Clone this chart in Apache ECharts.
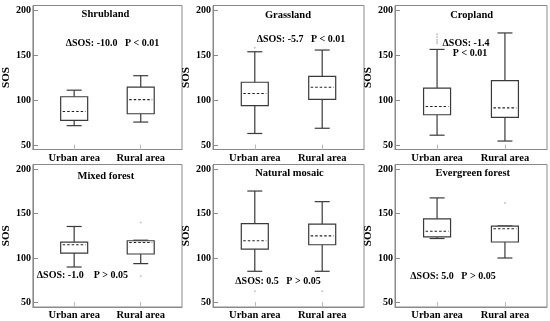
<!DOCTYPE html>
<html>
<head>
<meta charset="utf-8">
<script src="https://cdn.jsdelivr.net/npm/echarts@6/dist/echarts.min.js"></script>
<style>html,body{margin:0;padding:0;background:#fff}#c{width:550px;height:321px}</style>
</head>
<body>
<div id="c"></div>
<script>
// ---- data ----
const categories = ['Urban area', 'Rural area'];
const panelTitles = ['Shrubland', 'Grassland', 'Cropland', 'Mixed forest', 'Natural mosaic', 'Evergreen forest'];
const annotationTexts = [
  ['ΔSOS: -10.0   P < 0.01'],
  ['ΔSOS: -5.7   P < 0.01'],
  ['ΔSOS: -1.4', 'P < 0.01'],
  ['ΔSOS: -1.0    P > 0.05'],
  ['ΔSOS: 0.5   P > 0.05'],
  ['ΔSOS: 5.0   P > 0.05']
];
const yTicks = [50, 100, 150, 200];
// [whisker low, Q1, median, Q3, whisker high] for urban, rural
const shrubland = [[71.5, 77.4, 87.2, 103.6, 110.9], [75.5, 84.7, 100.4, 114.2, 127.0]];
const grassland = [[62.8, 93.8, 107.3, 119.7, 153.6], [68.6, 100.7, 114.2, 126.3, 155.5]];
const cropland = [[60.9, 83.6, 92.7, 113.1, 156.2], [54.4, 80.7, 91.2, 121.5, 174.5]];
const mixedForest = [[89.9, 105.6, 114.9, 117.9, 135.4], [93.7, 104.5, 117.5, 119.4, 120.0]];
const naturalMosaic = [[85.1, 110.0, 119.4, 138.7, 175.2], [85.1, 114.9, 124.9, 138.0, 163.3]];
const evergreenForest = [[121.9, 123.8, 130.0, 144.0, 167.5], [100.0, 118.0, 132.8, 135.8, 136.0]];
// outliers: [category index, value]
const shrublandOut = [];
const grasslandOut = [[0, 158]];
const croplandOut = [[0, 163], [0, 165], [0, 167], [0, 170], [0, 173]];
const mixedForestOut = [[1, 139.8], [1, 79.5]];
const naturalMosaicOut = [[0, 62.8], [1, 62.8]];
const evergreenForestOut = [[1, 161.7]];

const panels = [shrubland, grassland, cropland, mixedForest, naturalMosaic, evergreenForest];
const outliers = [shrublandOut, grasslandOut, croplandOut, mixedForestOut, naturalMosaicOut, evergreenForestOut];

// ---- layout ----
const colLeft = [30, 213, 395];
const colWidth = [152, 151, 152];
const rowTop = [5.5, 164.5];
const rowHeight = [144, 143.3];
const titlePos = [[105.5, 14.5], [288, 15], [471.7, 15.5], [105.8, 176], [289.5, 173.3], [472.8, 173.3]];
const annotPos = [[[112.5, 43]], [[301, 39.5]], [[466, 43], [470, 53.5]], [[82.4, 275.7]], [[278, 281.7]], [[453, 276]]];

const FONT = "'Liberation Serif', 'Times New Roman', serif";
const BOX = '#3a3a3a';
const AXIS = '#8a8a8a';

function renderBox(params, api) {
  const x = api.value(0);
  const lo = api.coord([x, api.value(1)]);
  const q1 = api.coord([x, api.value(2)]);
  const md = api.coord([x, api.value(3)]);
  const q3 = api.coord([x, api.value(4)]);
  const hi = api.coord([x, api.value(5)]);
  const cx = lo[0], bw = 27, cw = 15;
  const st = { stroke: BOX, lineWidth: 1.2, fill: null };
  return {
    type: 'group',
    children: [
      { type: 'line', shape: { x1: cx, y1: hi[1], x2: cx, y2: q3[1] }, style: st },
      { type: 'line', shape: { x1: cx, y1: q1[1], x2: cx, y2: lo[1] }, style: st },
      { type: 'line', shape: { x1: cx - cw / 2, y1: hi[1], x2: cx + cw / 2, y2: hi[1] }, style: st },
      { type: 'line', shape: { x1: cx - cw / 2, y1: lo[1], x2: cx + cw / 2, y2: lo[1] }, style: st },
      { type: 'rect', shape: { x: cx - bw / 2, y: q3[1], width: bw, height: q1[1] - q3[1] }, style: { stroke: BOX, lineWidth: 1.2, fill: '#fff' } },
      { type: 'line', shape: { x1: cx - bw / 2 + 2, y1: md[1], x2: cx + bw / 2 - 2, y2: md[1] }, style: { stroke: '#222', lineWidth: 1.1, lineDash: [2.5, 2] } }
    ]
  };
}

const grids = [], xAxes = [], yAxes = [], series = [], graphics = [];
for (let i = 0; i < 6; i++) {
  const r = Math.floor(i / 3), c = i % 3;
  grids.push({ left: colLeft[c], top: rowTop[r], width: colWidth[c], height: rowHeight[r], show: true, borderColor: AXIS, borderWidth: 1, backgroundColor: 'transparent' });
  xAxes.push({
    gridIndex: i, type: 'value', min: -0.62, max: 1.62,
    axisLine: { show: true, onZero: false, lineStyle: { color: AXIS } },
    axisTick: { show: true, inside: true, length: 5, customValues: [0, 1], lineStyle: { color: '#bbb' } },
    axisLabel: { customValues: [0, 1], formatter: v => categories[Math.round(v)], margin: 3, color: '#000', fontFamily: FONT, fontWeight: 'bold', fontSize: 10.5 },
    splitLine: { show: false }
  });
  yAxes.push({
    gridIndex: i, type: 'value', min: 45, max: 205,
    name: 'SOS', nameLocation: 'middle', nameGap: 15, nameRotate: 90,
    nameTextStyle: { color: '#000', fontFamily: FONT, fontWeight: 'bold', fontSize: 11 },
    axisLine: { show: true, onZero: false, lineStyle: { color: AXIS } },
    axisTick: { show: true, inside: true, length: 5, customValues: yTicks, lineStyle: { color: AXIS } },
    axisLabel: { customValues: yTicks, margin: 2, color: '#000', fontFamily: FONT, fontWeight: 'bold', fontSize: 10 },
    splitLine: { show: false }
  });
  series.push({
    type: 'custom', xAxisIndex: i, yAxisIndex: i, renderItem: renderBox,
    encode: { x: 0, y: [1, 2, 3, 4, 5] },
    data: panels[i].map((d, k) => [k].concat(d))
  });
  series.push({
    type: 'scatter', xAxisIndex: i, yAxisIndex: i, symbolSize: 2,
    itemStyle: { color: '#b8b8b8' }, data: outliers[i]
  });
  graphics.push({ type: 'text', x: titlePos[i][0], y: titlePos[i][1], style: { text: panelTitles[i], fill: '#000', font: 'bold 10.5px ' + FONT, textAlign: 'center', textVerticalAlign: 'middle' } });
  annotationTexts[i].forEach((t, k) => {
    graphics.push({ type: 'text', x: annotPos[i][k][0], y: annotPos[i][k][1], style: { text: t, fill: '#000', font: 'bold 10px ' + FONT, textAlign: 'center', textVerticalAlign: 'middle' } });
  });
}

const chart = echarts.init(document.getElementById('c'), null, { renderer: 'canvas' });
chart.setOption({
  animation: false,
  backgroundColor: '#fff',
  grid: grids, xAxis: xAxes, yAxis: yAxes, series: series, graphic: graphics
});
</script>
</body>
</html>
